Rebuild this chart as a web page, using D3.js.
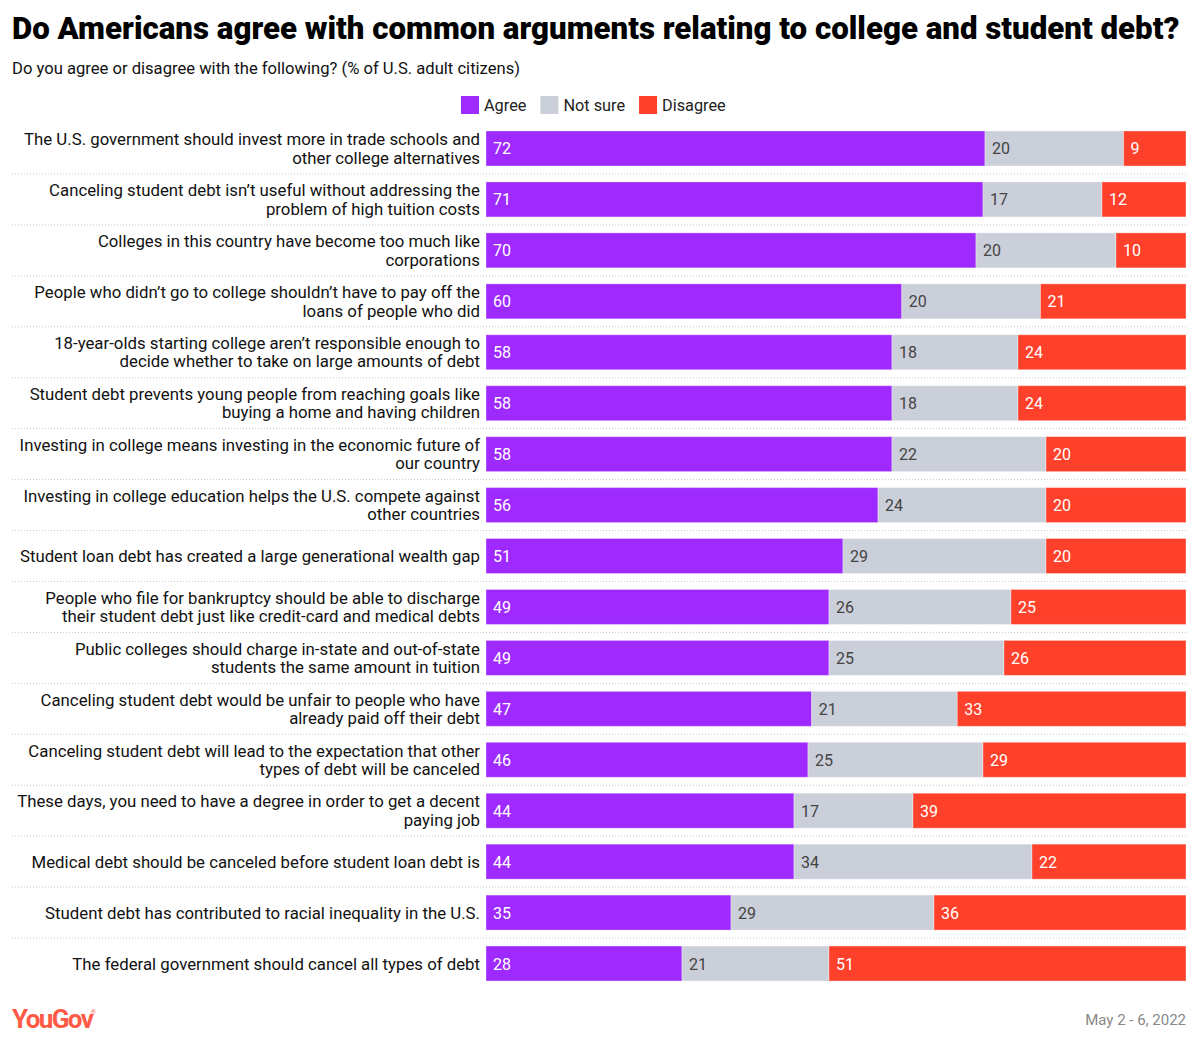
<!DOCTYPE html>
<html>
<head>
<meta charset="utf-8">
<script src="https://cdn.jsdelivr.net/npm/d3@7"></script>
<style>
  body { margin: 0; background: #fff; }
  text { font-family: Roboto, "Noto Sans", sans-serif; }
</style>
</head>
<body>
<div id="chart-container"></div>
<script>
// data
const categories = [
  'The U.S. government should invest more in trade schools and\nother college alternatives',
  'Canceling student debt isn\u2019t useful without addressing the\nproblem of high tuition costs',
  'Colleges in this country have become too much like\ncorporations',
  'People who didn\u2019t go to college shouldn\u2019t have to pay off the\nloans of people who did',
  '18-year-olds starting college aren\u2019t responsible enough to\ndecide whether to take on large amounts of debt',
  'Student debt prevents young people from reaching goals like\nbuying a home and having children',
  'Investing in college means investing in the economic future of\nour country',
  'Investing in college education helps the U.S. compete against\nother countries',
  'Student loan debt has created a large generational wealth gap',
  'People who file for bankruptcy should be able to discharge\ntheir student debt just like credit-card and medical debts',
  'Public colleges should charge in-state and out-of-state\nstudents the same amount in tuition',
  'Canceling student debt would be unfair to people who have\nalready paid off their debt',
  'Canceling student debt will lead to the expectation that other\ntypes of debt will be canceled',
  'These days, you need to have a degree in order to get a decent\npaying job',
  'Medical debt should be canceled before student loan debt is',
  'Student debt has contributed to racial inequality in the U.S.',
  'The federal government should cancel all types of debt'
]
const agree    = [72, 71, 70, 60, 58, 58, 58, 56, 51, 49, 49, 47, 46, 44, 44, 35, 28]
const notSure  = [20, 17, 20, 20, 18, 18, 22, 24, 29, 26, 25, 21, 25, 17, 34, 29, 21]
const disagree = [9, 12, 10, 21, 24, 24, 20, 20, 20, 25, 26, 33, 29, 39, 22, 36, 51]
const seriesNames = ['Agree', 'Not sure', 'Disagree']

// constants
const width = 1200
const height = 1045
const barLeft = 486
const barRight = 1186
const colors = ['#9f2aff', '#cbcfd9', '#ff412c']
const labelColors = ['#fff', '#444', '#fff']

const svg = d3.select('#chart-container')
  .append('svg')
  .attr('width', width)
  .attr('height', height)

// title + subtitle (title sized to span the full width like the original)
const title = svg.append('text')
  .attr('x', 12).attr('y', 39)
  .attr('font-weight', 900)
  .attr('font-size', '28px')
  .attr('fill', '#000')
  .text('Do Americans agree with common arguments relating to college and student debt?')
const tw = title.node().getComputedTextLength()
title.attr('font-size', (28 * 1168 / tw) + 'px')

svg.append('text')
  .attr('x', 12).attr('y', 74)
  .attr('font-size', '16.6px')
  .attr('fill', '#111')
  .text('Do you agree or disagree with the following? (% of U.S. adult citizens)')

// legend
const legend = svg.append('g').attr('transform', 'translate(461, 96)')
let lx = 0
seriesNames.forEach((name, i) => {
  const g = legend.append('g').attr('transform', `translate(${lx}, 0)`)
  g.append('rect').attr('width', 18).attr('height', 18).attr('fill', colors[i])
  const t = g.append('text')
    .attr('x', 23).attr('y', 14.5)
    .attr('font-size', '16.3px')
    .attr('fill', '#222')
    .text(name)
  lx += 23 + t.node().getComputedTextLength() + 14
})

// scales
const yScale = d3.scaleBand()
  .domain(d3.range(categories.length))
  .range([123.03, 989.0])
  .paddingInner(0.313)
  .paddingOuter(0.1565)

const rows = categories.map((c, i) => {
  const vals = [agree[i], notSure[i], disagree[i]]
  const total = d3.sum(vals)
  const xScale = d3.scaleLinear().domain([0, total]).range([barLeft, barRight])
  let acc = 0
  const segs = vals.map((v, k) => {
    const s = { k, v, x0: xScale(acc), x1: xScale(acc + v) }
    acc += v
    return s
  })
  return { i, label: c, segs }
})

// separators
const sepY = d => yScale(d) + yScale.bandwidth() + (yScale.step() - yScale.bandwidth()) / 2
svg.append('g')
  .selectAll('line')
  .data(d3.range(categories.length - 1))
  .enter().append('line')
  .attr('x1', 12).attr('x2', barRight)
  .attr('y1', sepY)
  .attr('y2', sepY)
  .attr('stroke', '#c8c8c8')
  .attr('stroke-width', 1)
  .attr('stroke-dasharray', '1,2')

const rowG = svg.append('g')
  .selectAll('g')
  .data(rows)
  .enter().append('g')
  .attr('transform', d => `translate(0, ${yScale(d.i)})`)

// bars
rowG.selectAll('rect')
  .data(d => d.segs)
  .enter().append('rect')
  .attr('x', d => d.x0)
  .attr('width', d => d.x1 - d.x0)
  .attr('y', 0)
  .attr('height', yScale.bandwidth())
  .attr('fill', d => colors[d.k])
  .attr('stroke', 'rgba(255,255,255,0.35)')
  .attr('stroke-width', 1)

// value labels
rowG.selectAll('text.val')
  .data(d => d.segs)
  .enter().append('text')
  .attr('class', 'val')
  .attr('x', d => d.x0 + 7)
  .attr('y', yScale.bandwidth() / 2 + 6)
  .attr('font-size', '16px')
  .attr('fill', d => labelColors[d.k])
  .text(d => d.v)

// category labels
rowG.each(function (d) {
  const lines = d.label.split('\n')
  const t = d3.select(this).append('text')
    .attr('text-anchor', 'end')
    .attr('font-size', '16.8px')
    .attr('fill', '#111')
  const mid = yScale.bandwidth() / 2
  const lh = 18.5
  lines.forEach((ln, j) => {
    t.append('tspan')
      .attr('x', 480)
      .attr('y', mid + 6 + (j - (lines.length - 1) / 2) * lh)
      .text(ln)
  })
})

// footer
svg.append('text')
  .attr('x', 12).attr('y', 1028)
  .attr('font-weight', 700)
  .attr('font-size', '26px')
  .attr('letter-spacing', '-1.6px')
  .attr('fill', '#ff5a45')
  .text('YouGov')
svg.append('text')
  .attr('x', 91).attr('y', 1014)
  .attr('font-size', '6px')
  .attr('fill', '#ff5a45')
  .text('\u00ae')

svg.append('text')
  .attr('x', barRight).attr('y', 1025)
  .attr('text-anchor', 'end')
  .attr('font-size', '15px')
  .attr('fill', '#888')
  .text('May 2 - 6, 2022')
</script>
</body>
</html>
